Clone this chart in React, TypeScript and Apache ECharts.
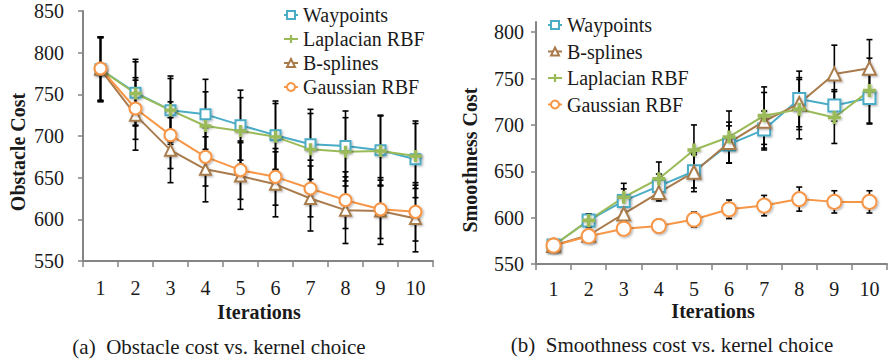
import React, { useEffect, useRef } from "react";
import * as echarts from "echarts";

const iterations = ["1", "2", "3", "4", "5", "6", "7", "8", "9", "10"];

// (a) Obstacle cost
const obsWaypoints = [780, 752, 731, 726, 713, 701, 690, 688, 683, 672];
const obsLaplacian = [780, 751, 731, 712, 706, 699, 684, 681, 682, 676];
const obsBsplines = [780, 725, 683, 660, 652, 642, 625, 611, 610, 601];
const obsGaussian = [781, 733, 701, 675, 659, 651, 637, 623, 612, 609];
const obsWaypointsErr = [39, 40, 41, 42, 42, 41, 42, 42, 42, 46];
const obsLaplacianErr = [38, 38, 38, 41, 40, 40, 43, 41, 42, 39];
const obsBsplinesErr = [38, 42, 39, 39, 40, 39, 39, 40, 40, 40];
const obsGaussianErr = [38, 37, 40, 35, 35, 34, 34, 34, 35, 35];

// (b) Smoothness cost
const smWaypoints = [570, 597, 618, 634, 650, 679, 695, 728, 721, 729];
const smBsplines = [570, 581, 604, 627, 649, 681, 704, 723, 755, 761];
const smLaplacian = [570, 597, 622, 642, 673, 687, 710, 717, 708, 737];
const smGaussian = [570, 580, 588, 591, 598, 609, 613, 620, 617, 617];
const smWaypointsErr = [2, 7, 13, 13, 18, 20, 20, 30, 17, 28];
const smBsplinesErr = [2, 5, 8, 9, 21, 22, 31, 28, 31, 31];
const smLaplacianErr = [2, 7, 15, 18, 27, 28, 31, 32, 28, 35];
const smGaussianErr = [2, 4, 5, 7, 8, 10, 11, 13, 12, 12];

const smTicks = [550, 600, 650, 700, 750, 800];

const legendA = ["Waypoints", "Laplacian RBF", "B-splines", "Gaussian RBF"];
const legendB = ["Waypoints", "B-splines", "Laplacian RBF", "Gaussian RBF"];

const COLORS: Record<string, string> = {
  Waypoints: "#4BACC6",
  "Laplacian RBF": "#9BBB59",
  "B-splines": "#A97B4C",
  "Gaussian RBF": "#F79646",
};
const PLUS = "path://M3.6,0H6.4V3.6H10V6.4H6.4V10H3.6V6.4H0V3.6H3.6Z";
const FONT = "Liberation Serif";

function errData(vals: number[], errs: number[]) {
  return vals.map((v, i) => [i, v - errs[i], v + errs[i]]);
}

export default function App() {
  const ref = useRef<HTMLDivElement>(null);
  useEffect(() => {
    if (!ref.current) return;
    const chart = echarts.init(ref.current, null, { renderer: "svg" });

    const shadow = {
      shadowBlur: 2,
      shadowColor: "rgba(0,0,0,0.3)",
      shadowOffsetX: 1.2,
      shadowOffsetY: 1.2,
    };

    const lineSeries = (
      name: string,
      data: number[],
      idx: number,
      kind: string,
      size: number
    ) => {
      const c = COLORS[name];
      const filled = kind === "plus";
      return {
        type: "line",
        name,
        xAxisIndex: idx,
        yAxisIndex: idx,
        data,
        symbol: kind === "plus" ? PLUS : kind,
        symbolSize: size,
        showAllSymbol: true,
        lineStyle: { color: c, width: 2 },
        itemStyle: filled
          ? { color: c, borderWidth: 0, ...shadow }
          : { color: "#fff", borderColor: c, borderWidth: 2, ...shadow },
        z: 3,
      };
    };

    const renderErr = (params: any, api: any) => {
      const x = api.value(0);
      const lo = api.coord([x, api.value(1)]);
      const hi = api.coord([x, api.value(2)]);
      const cw = 3;
      const st = { stroke: "#000", lineWidth: 1.6 };
      return {
        type: "group",
        children: [
          { type: "line", shape: { x1: lo[0], y1: lo[1], x2: hi[0], y2: hi[1] }, style: st },
          { type: "line", shape: { x1: lo[0] - cw, y1: lo[1], x2: lo[0] + cw, y2: lo[1] }, style: st },
          { type: "line", shape: { x1: hi[0] - cw, y1: hi[1], x2: hi[0] + cw, y2: hi[1] }, style: st },
        ],
      };
    };

    const errSeries = (name: string, data: number[][], idx: number) => ({
      type: "custom",
      name,
      xAxisIndex: idx,
      yAxisIndex: idx,
      data,
      encode: { x: 0, y: [1, 2] },
      renderItem: renderErr,
      z: 2,
      silent: true,
    });

    const axisLine = { show: true, lineStyle: { color: "#858585", width: 2 } };
    const labelStyle = { color: "#1a1a1a", fontFamily: FONT, fontSize: 20, lineHeight: 16 };

    const xAxis = (idx: number, margin: number) => ({
      type: "category",
      gridIndex: idx,
      data: iterations,
      boundaryGap: true,
      axisLine,
      axisTick: { show: true, length: 6, interval: 0, lineStyle: { color: "#858585", width: 1.5 } },
      axisLabel: { ...labelStyle, margin, interval: 0 },
      splitLine: { show: false },
    });

    const legendText = { fontFamily: FONT, fontSize: 20, lineHeight: 18, color: "#1a1a1a" };
    const boldTitle = {
      fontFamily: FONT,
      fontSize: 20,
      fontWeight: "bold",
      fill: "#1a1a1a",
      align: "center",
      verticalAlign: "middle",
    };
    const caption = {
      fontFamily: FONT,
      fontSize: 21,
      fill: "#1a1a1a",
      align: "center",
      verticalAlign: "middle",
    };

    const option: any = {
      animation: false,
      backgroundColor: "#fff",
      grid: [
        { left: 83, top: 11, width: 350, height: 250, containLabel: false },
        { left: 536, top: 22, width: 351, height: 242, containLabel: false },
      ],
      xAxis: [xAxis(0, 19), xAxis(1, 17)],
      yAxis: [
        {
          type: "value",
          gridIndex: 0,
          min: 550,
          max: 850,
          interval: 50,
          axisLine,
          axisTick: { show: true, length: 5, lineStyle: { color: "#858585", width: 1.5 } },
          axisLabel: { ...labelStyle, margin: 19 },
          splitLine: { show: false },
        },
        {
          type: "value",
          gridIndex: 1,
          min: 550,
          max: 811,
          interval: 50,
          axisLine,
          axisTick: {
            show: true,
            length: 5,
            customValues: smTicks,
            lineStyle: { color: "#858585", width: 1.5 },
          },
          axisLabel: { ...labelStyle, margin: 12, customValues: smTicks },
          splitLine: { show: false },
        },
      ],
      legend: [
        {
          data: legendA,
          orient: "vertical",
          left: 283,
          top: 5,
          padding: 0,
          itemWidth: 14,
          itemHeight: 10,
          itemGap: 4,
          textStyle: legendText,
          itemStyle: { shadowBlur: 0, shadowOffsetX: 0, shadowOffsetY: 0 },
          selectedMode: false,
        },
        {
          data: legendB,
          orient: "vertical",
          left: 547,
          top: 15,
          padding: 0,
          itemWidth: 14,
          itemHeight: 10,
          itemGap: 6.5,
          textStyle: legendText,
          itemStyle: { shadowBlur: 0, shadowOffsetX: 0, shadowOffsetY: 0 },
          selectedMode: false,
        },
      ],
      series: [
        errSeries("errA-w", errData(obsWaypoints, obsWaypointsErr), 0),
        errSeries("errA-l", errData(obsLaplacian, obsLaplacianErr), 0),
        errSeries("errA-b", errData(obsBsplines, obsBsplinesErr), 0),
        errSeries("errA-g", errData(obsGaussian, obsGaussianErr), 0),
        lineSeries("Waypoints", obsWaypoints, 0, "rect", 10),
        lineSeries("Laplacian RBF", obsLaplacian, 0, "plus", 12),
        lineSeries("B-splines", obsBsplines, 0, "triangle", 11),
        lineSeries("Gaussian RBF", obsGaussian, 0, "circle", 12),

        errSeries("errB-w", errData(smWaypoints, smWaypointsErr), 1),
        errSeries("errB-b", errData(smBsplines, smBsplinesErr), 1),
        errSeries("errB-l", errData(smLaplacian, smLaplacianErr), 1),
        errSeries("errB-g", errData(smGaussian, smGaussianErr), 1),
        lineSeries("Waypoints", smWaypoints, 1, "rect", 12),
        lineSeries("B-splines", smBsplines, 1, "triangle", 13),
        lineSeries("Laplacian RBF", smLaplacian, 1, "plus", 13),
        lineSeries("Gaussian RBF", smGaussian, 1, "circle", 14),
      ],
      graphic: [
        {
          type: "text",
          x: 18,
          y: 152,
          rotation: Math.PI / 2,
          style: { ...boldTitle, text: "Obstacle Cost" },
        },
        {
          type: "text",
          x: 470,
          y: 160,
          rotation: Math.PI / 2,
          style: { ...boldTitle, text: "Smoothness Cost" },
        },
        { type: "text", x: 259, y: 312, style: { ...boldTitle, text: "Iterations" } },
        { type: "text", x: 713, y: 311, style: { ...boldTitle, text: "Iterations" } },
        {
          type: "text",
          x: 219,
          y: 347,
          style: { ...caption, text: "(a)  Obstacle cost vs. kernel choice" },
        },
        {
          type: "text",
          x: 672,
          y: 345,
          style: { ...caption, text: "(b)  Smoothness cost vs. kernel choice" },
        },
      ],
    };

    chart.setOption(option);
    return () => chart.dispose();
  }, []);

  return (
    <div
      ref={ref}
      style={{ position: "absolute", left: 0, top: 0, width: 888, height: 363 }}
    />
  );
}
